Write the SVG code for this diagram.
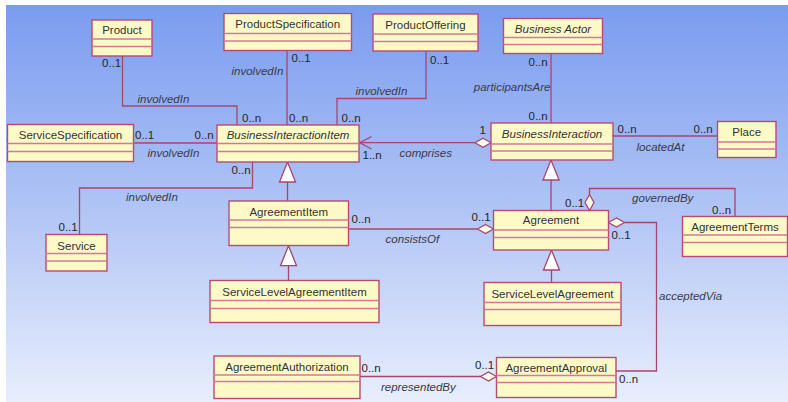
<svg xmlns="http://www.w3.org/2000/svg" width="788" height="402" viewBox="0 0 788 402">
<defs>
<linearGradient id="bg" x1="0" y1="0" x2="0" y2="1">
<stop offset="0" stop-color="#7a9cf0"/>
<stop offset="0.5" stop-color="#afc3f5"/>
<stop offset="1" stop-color="#e8eefc"/>
</linearGradient>
<style>
.box{fill:#fefac8;stroke:#b84a72;stroke-width:1.4}
.sep{stroke:#d27a94;stroke-width:1.4}
.t{font-family:"Liberation Sans",Arial,sans-serif;font-size:11.5px;fill:#333;text-anchor:middle}
.ti{font-style:italic}
.c{fill:none;stroke:#a8456e;stroke-width:1.3}
.m{font-family:"Liberation Sans",Arial,sans-serif;font-size:11.5px;fill:#262626}
.l{font-family:"Liberation Sans",Arial,sans-serif;font-size:11.5px;fill:#3a3a4a;font-style:italic}
.d{fill:#fffbe8;stroke:#a8456e;stroke-width:1.3}
.g{fill:#ffffff;stroke:#a8456e;stroke-width:1.3}
</style>
</defs>
<rect x="0" y="0" width="788" height="402" fill="#ffffff"/>
<rect x="6" y="5" width="782" height="397" fill="url(#bg)"/>

<g id="connectors">
<path class="c" d="M122.5,56 V106 H237 V125"/>
<path class="c" d="M287,50.5 V125"/>
<path class="c" d="M426,51 V98.5 H337 V125"/>
<path class="c" d="M551,53.5 V123"/>
<path class="c" d="M613,136 H717.5"/>
<path class="c" d="M133.5,143 H217"/>
<path class="c" d="M252.5,162 V188 H79.5 V234.5"/>
<path class="c" d="M359.5,142.7 H475"/>
<path class="c" d="M371.5,136.5 L359.8,142.7 L371.5,149"/>
<polygon class="d" points="491,142.7 483,138.2 475,142.7 483,147.2"/>
<path class="c" d="M348.5,229 H477.5"/>
<polygon class="d" points="493.5,229 485.5,224.5 477.5,229 485.5,233.5"/>
<path class="c" d="M589.5,194.5 V188.5 H735 V216.5"/>
<polygon class="d" points="589.5,210.5 585,202.5 589.5,194.5 594,202.5"/>
<path class="c" d="M624.5,222.5 H656.5 V371 H616"/>
<polygon class="d" points="608.5,222.5 616.5,218 624.5,222.5 616.5,227"/>
<path class="c" d="M360,376.5 H480.5"/>
<polygon class="d" points="496.5,376.5 488.5,372 480.5,376.5 488.5,381"/>
<path class="c" d="M287.5,182 V201"/>
<polygon class="g" points="287.5,162 279.5,182 295.5,182"/>
<path class="c" d="M288.5,265.7 V280.5"/>
<polygon class="g" points="288.5,245.7 280.5,265.7 296.5,265.7"/>
<path class="c" d="M551,180 V210.5"/>
<polygon class="g" points="551,160 543,180 559,180"/>
<path class="c" d="M551.5,270 V282.5"/>
<polygon class="g" points="551.5,250 543.5,270 559.5,270"/>

<text class="m" x="102" y="67">0..1</text>
<text class="l" x="137.5" y="103">involvedIn</text>
<text class="m" x="242" y="122">0..n</text>
<text class="l" x="231.5" y="74.5">involvedIn</text>
<text class="m" x="291.5" y="62">0..1</text>
<text class="m" x="289" y="122">0..n</text>
<text class="m" x="430" y="64">0..1</text>
<text class="l" x="355.5" y="94.5">involvedIn</text>
<text class="m" x="341.5" y="122">0..n</text>
<text class="m" x="528.5" y="65.5">0..n</text>
<text class="l" x="550.5" y="91" text-anchor="end">participantsAre</text>
<text class="m" x="528.5" y="119.5">0..n</text>
<text class="m" x="479.5" y="134">1</text>
<text class="m" x="617.5" y="133">0..n</text>
<text class="m" x="693.5" y="133">0..n</text>
<text class="l" x="636.5" y="150.5">locatedAt</text>
<text class="m" x="135" y="139">0..1</text>
<text class="m" x="194.5" y="139">0..n</text>
<text class="l" x="147.5" y="157">involvedIn</text>
<text class="m" x="362.5" y="159">1..n</text>
<text class="l" x="399.5" y="157">comprises</text>
<text class="m" x="231.5" y="174">0..n</text>
<text class="l" x="126" y="201">involvedIn</text>
<text class="m" x="58.5" y="231">0..1</text>
<text class="m" x="351.5" y="223">0..n</text>
<text class="m" x="471.5" y="220.5">0..1</text>
<text class="l" x="385.5" y="243">consistsOf</text>
<text class="m" x="565" y="207">0..1</text>
<text class="l" x="632" y="202">governedBy</text>
<text class="m" x="712" y="214">0..n</text>
<text class="m" x="611.5" y="239">0..1</text>
<text class="l" x="659" y="300">acceptedVia</text>
<text class="m" x="619" y="383">0..n</text>
<text class="m" x="361.5" y="372">0..n</text>
<text class="m" x="475" y="369">0..1</text>
<text class="l" x="381" y="390.5">representedBy</text>
</g>

<g id="Product"><rect class="box" x="92" y="20" width="60" height="36"/><line class="sep" x1="92" y1="39" x2="152" y2="39"/><line class="sep" x1="92" y1="46.5" x2="152" y2="46.5"/><text class="t" x="122" y="34">Product</text></g>
<g id="ProductSpecification"><rect class="box" x="224" y="13.5" width="127.5" height="37"/><line class="sep" x1="224" y1="33.5" x2="351.5" y2="33.5"/><line class="sep" x1="224" y1="41" x2="351.5" y2="41"/><text class="t" x="287.75" y="28">ProductSpecification</text></g>
<g id="ProductOffering"><rect class="box" x="373" y="14" width="105" height="37"/><line class="sep" x1="373" y1="34" x2="478" y2="34"/><line class="sep" x1="373" y1="41.5" x2="478" y2="41.5"/><text class="t" x="425.5" y="28.5">ProductOffering</text></g>
<g id="BusinessActor"><rect class="box" x="503.5" y="18.5" width="99" height="35"/><line class="sep" x1="503.5" y1="37.5" x2="602.5" y2="37.5"/><line class="sep" x1="503.5" y1="44.5" x2="602.5" y2="44.5"/><text class="t ti" x="553" y="32.5">Business Actor</text></g>
<g id="ServiceSpecification"><rect class="box" x="7.5" y="124.5" width="126" height="37"/><line class="sep" x1="7.5" y1="143.5" x2="133.5" y2="143.5"/><line class="sep" x1="7.5" y1="151.5" x2="133.5" y2="151.5"/><text class="t" x="70.5" y="139">ServiceSpecification</text></g>
<g id="BusinessInteractionItem"><rect class="box" x="217" y="125" width="142" height="37"/><line class="sep" x1="217" y1="143.5" x2="359" y2="143.5"/><line class="sep" x1="217" y1="151.5" x2="359" y2="151.5"/><text class="t ti" x="288" y="139">BusinessInteractionItem</text></g>
<g id="BusinessInteraction"><rect class="box" x="491" y="123" width="122" height="37"/><line class="sep" x1="491" y1="144" x2="613" y2="144"/><line class="sep" x1="491" y1="151" x2="613" y2="151"/><text class="t ti" x="552" y="137.5">BusinessInteraction</text></g>
<g id="Place"><rect class="box" x="717.5" y="121.5" width="58.5" height="36"/><line class="sep" x1="717.5" y1="142" x2="776" y2="142"/><line class="sep" x1="717.5" y1="149" x2="776" y2="149"/><text class="t" x="746.75" y="136">Place</text></g>
<g id="Service"><rect class="box" x="46" y="234.5" width="61" height="36.5"/><line class="sep" x1="46" y1="253.5" x2="107" y2="253.5"/><line class="sep" x1="46" y1="261" x2="107" y2="261"/><text class="t" x="76.5" y="249.5">Service</text></g>
<g id="AgreementItem"><rect class="box" x="229" y="201" width="119.5" height="44.5"/><line class="sep" x1="229" y1="220" x2="348.5" y2="220"/><line class="sep" x1="229" y1="227.5" x2="348.5" y2="227.5"/><text class="t" x="288.75" y="215.5">AgreementItem</text></g>
<g id="Agreement"><rect class="box" x="493.5" y="210.5" width="115" height="39.5"/><line class="sep" x1="493.5" y1="230" x2="608.5" y2="230"/><line class="sep" x1="493.5" y1="237.5" x2="608.5" y2="237.5"/><text class="t" x="551" y="224">Agreement</text></g>
<g id="AgreementTerms"><rect class="box" x="682.5" y="216.5" width="105" height="40"/><line class="sep" x1="682.5" y1="235" x2="787.5" y2="235"/><line class="sep" x1="682.5" y1="242.5" x2="787.5" y2="242.5"/><text class="t" x="735" y="231">AgreementTerms</text></g>
<g id="ServiceLevelAgreementItem"><rect class="box" x="210" y="280.5" width="169" height="42"/><line class="sep" x1="210" y1="300.5" x2="379" y2="300.5"/><line class="sep" x1="210" y1="308.5" x2="379" y2="308.5"/><text class="t" x="294.5" y="295.5">ServiceLevelAgreementItem</text></g>
<g id="ServiceLevelAgreement"><rect class="box" x="484" y="282.5" width="137" height="43"/><line class="sep" x1="484" y1="302.5" x2="621" y2="302.5"/><line class="sep" x1="484" y1="309.5" x2="621" y2="309.5"/><text class="t" x="552.5" y="297.5">ServiceLevelAgreement</text></g>
<g id="AgreementAuthorization"><rect class="box" x="214" y="356" width="146" height="42.5"/><line class="sep" x1="214" y1="375" x2="360" y2="375"/><line class="sep" x1="214" y1="381.5" x2="360" y2="381.5"/><text class="t" x="287" y="370.5">AgreementAuthorization</text></g>
<g id="AgreementApproval"><rect class="box" x="496.5" y="357.5" width="119.5" height="40"/><line class="sep" x1="496.5" y1="375.5" x2="616" y2="375.5"/><line class="sep" x1="496.5" y1="382.5" x2="616" y2="382.5"/><text class="t" x="556.25" y="371.5">AgreementApproval</text></g>
</svg>
